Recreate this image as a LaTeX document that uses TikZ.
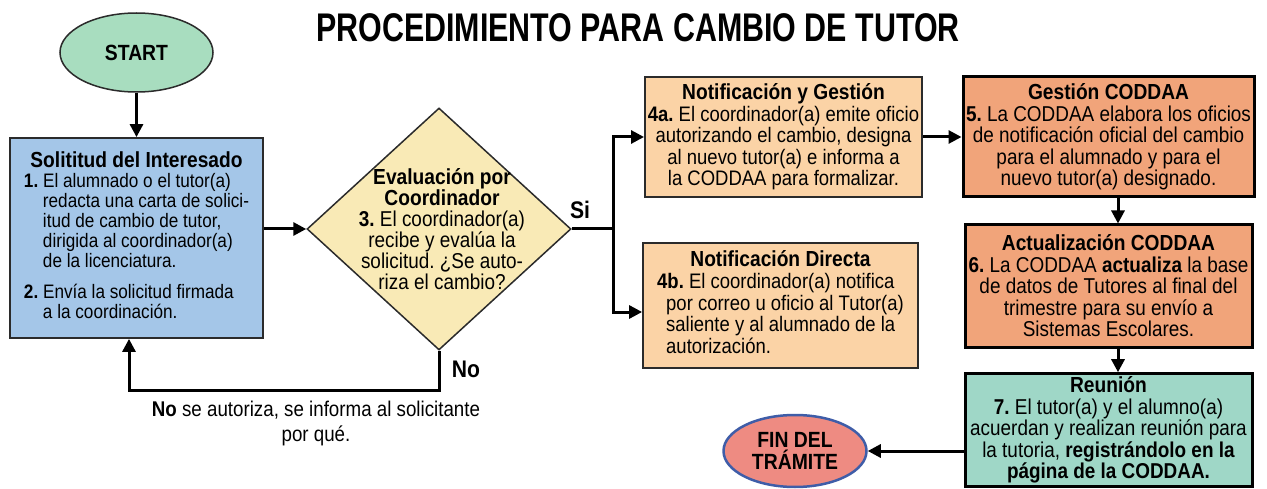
\documentclass[tikz,border=0pt]{standalone}
\usepackage{fontspec}
\setmainfont{Liberation Sans}[FakeStretch=0.88]
\newfontfamily\titlefont{Liberation Sans}[FakeStretch=0.76]
\usetikzlibrary{shapes.geometric,arrows.meta,calc}
\definecolor{blueF}{HTML}{A4C6E8}
\definecolor{diaF}{HTML}{F9EAB6}
\definecolor{peachF}{HTML}{FBD3A6}
\definecolor{salmonF}{HTML}{F1A47A}
\definecolor{tealF}{HTML}{9FD7C7}
\definecolor{startF}{HTML}{A8DDBF}
\definecolor{finF}{HTML}{EE8B82}
\definecolor{finB}{HTML}{3F5DA8}
\definecolor{edgeC}{HTML}{2B2B2B}
\newcommand\bodyfont{\fontsize{21.5}{21.5}\selectfont\frenchspacing}
\newcommand\headfont{\fontsize{21.8}{21.5}\selectfont\bfseries}
\tikzset{
  stepbox/.style={draw=edgeC, line width=1.8pt, rectangle, inner sep=3pt, font=\bodyfont},
  codbox/.style={stepbox, draw=black, line width=3pt},
  conn/.style={line width=3pt, -{Triangle[length=13pt,width=13pt]}},
  plain/.style={line width=3pt},
  lbl/.style={font=\fontsize{24}{24}\selectfont\bfseries, inner sep=0pt}
}
\begin{document}
\begin{tikzpicture}[x=1pt,y=-1pt]
\useasboundingbox (0,0) rectangle (1267,489);
\fill[white] (0,0) rectangle (1267,489);

\node[font=\titlefont\fontsize{40}{44}\selectfont\bfseries, inner sep=0pt] (title) at (638,28) {PROCEDIMIENTO PARA CAMBIO DE TUTOR};

\node[ellipse, draw=edgeC, line width=1.5pt, fill=startF, minimum width=153pt, minimum height=79pt, inner sep=0pt,
      font=\fontsize{22}{24}\selectfont\bfseries] (start) at (136.5,52.5) {START};

\node[stepbox, fill=blueF, minimum width=253pt, minimum height=200pt,
      font=\fontsize{19.5}{19.7}\selectfont\frenchspacing] (sol) at (136.5,238)
{\begin{tabular}{@{}l@{}}
\multicolumn{1}{@{}c@{}}{\headfont Solititud del Interesado}\\
\textbf{1.} El alumnado o el tutor(a)\\
\hspace*{19pt}redacta una carta de solici-\\
\hspace*{19pt}itud de cambio de tutor,\\
\hspace*{19pt}dirigida al coordinador(a)\\
\hspace*{19pt}de la licenciatura.\\[11pt]
\textbf{2.} Envía la solicitud firmada\\
\hspace*{19pt}a la coordinación.
\end{tabular}};

\node[diamond, draw=edgeC, line width=1.5pt, fill=diaF, minimum width=264pt, minimum height=242pt, inner sep=0pt] (dia) at (439,229) {};
\node[align=center, font=\fontsize{21.5}{21}\selectfont\frenchspacing, inner sep=0pt] (diatext) at ([xshift=3pt]dia.center)
{{\headfont Evaluación por}\\ {\headfont Coordinador}\\ \textbf{3.} El coordinador(a)\\ recibe y evalúa la\\ solicitud. ¿Se auto-\\ riza el cambio?};

\node[stepbox, fill=peachF, minimum width=277pt, minimum height=120pt, align=center,
      font=\fontsize{21}{21.5}\selectfont\frenchspacing] (n4a) at (783.5,137)
{{\headfont Notificación y Gestión}\\
\textbf{4a.} El coordinador(a) emite oficio\\
autorizando el cambio, designa\\
al nuevo tutor(a) e informa a\\
la CODDAA para formalizar.};

\node[stepbox, fill=peachF, minimum width=275pt, minimum height=125pt,
      font=\fontsize{21}{21.5}\selectfont\frenchspacing] (n4b) at (780.5,305.5)
{\begin{tabular}{@{}l@{}}
\multicolumn{1}{@{}c@{}}{\headfont Notificación Directa}\\
\textbf{4b.} El coordinador(a) notifica\\
\hspace*{9pt}por correo u oficio al Tutor(a)\\
\hspace*{9pt}saliente y al alumnado de la\\
\hspace*{9pt}autorización.
\end{tabular}};

\node[codbox, fill=salmonF, minimum width=287pt, minimum height=120pt, align=center] (n5) at (1108.5,137)
{{\headfont Gestión CODDAA}\\
\textbf{5.} La CODDAA elabora los oficios\\
de notificación oficial del cambio\\
para el alumnado y para el\\
nuevo tutor(a) designado.};

\node[codbox, fill=salmonF, minimum width=287pt, minimum height=122pt, align=center] (n6) at (1108.5,286)
{{\headfont Actualización CODDAA}\\
\textbf{6.} La CODDAA \textbf{actualiza} la base\\
de datos de Tutores al final del\\
trimestre para su envío a\\
Sistemas Escolares.};

\node[codbox, fill=tealF, minimum width=287pt, minimum height=108pt, align=center] (n7) at (1108.5,430)
{{\headfont Reunión}\\
\textbf{7.} El tutor(a) y el alumno(a)\\
acuerdan y realizan reunión para\\
la tutoria, \textbf{registrándolo en la}\\
\textbf{página de la CODDAA.}};

\node[ellipse, draw=finB, line width=2.5pt, fill=finF, minimum width=143pt, minimum height=72pt, inner sep=0pt, align=center,
      font=\fontsize{22}{22}\selectfont\bfseries] (fin) at (795,451) {FIN DEL\\TRÁMITE};

% connectors
\draw[conn] (start.south) -- (start.south |- sol.north);
\draw[conn] (sol.east |- dia.west) -- (dia.west);
\draw[conn] (dia.south) -- ++(0,40) -| ([xshift=-7.5pt]sol.south);
\coordinate (sp) at ($(dia.east)+(42,0)$);
\draw[plain] (dia.east) -- (sp);
\draw[conn] (sp) |- (n4a.west);
\draw[conn] (sp) |- ([yshift=-6.5pt]n4b.west);
\draw[conn] (n4a.east) -- (n5.west);
\draw[conn] ([xshift=9.5pt]n5.south) -- ([xshift=9.5pt]n6.north);
\draw[conn] ([xshift=9.5pt]n6.south) -- ([xshift=9.5pt]n7.north);
\draw[conn] (n7.west |- fin.east) -- (fin.east);

% labels
\node[lbl] (si) at (580,210) {Si};
\node[lbl] (no) at (466,369) {No};
\node[align=center, font=\fontsize{21.3}{25}\selectfont, inner sep=0pt] (notext) at (316,423)
{\textbf{No} se autoriza, se informa al solicitante\\ por qué.};
\end{tikzpicture}
\end{document}
